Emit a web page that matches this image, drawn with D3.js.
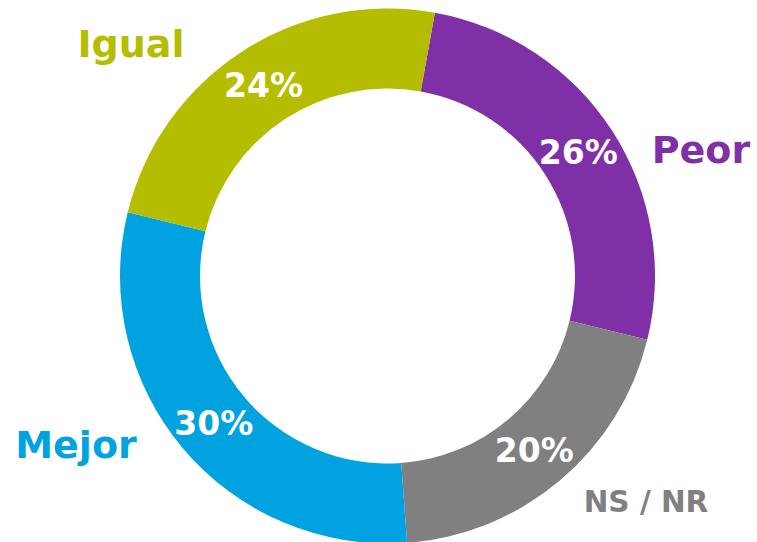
<!DOCTYPE html>
<html><head><meta charset="utf-8">
<script src="https://cdn.jsdelivr.net/npm/d3@7"></script>
<style>html,body{margin:0;padding:0;background:#fff;}svg{display:block;}</style>
</head><body>
<svg id="chart" width="757" height="542"></svg>
<script>
const categories = ["Peor", "NS / NR", "Mejor", "Igual"];
const values = [26, 20, 30, 24];
const pctLabels = ["26%", "20%", "30%", "24%"];
const colors = ["#7F30A6", "#808080", "#00A3E0", "#B5BD00"];

const W = 757, H = 542, cx = 387.5, cy = 276, rOuter = 267.5, rInner = 187.5;
const startDeg = 10.2;
const font = "'DejaVu Sans', sans-serif";
// category label positions (layout)
const catPos = [
  {x: 701, y: 163, size: 38},
  {x: 646, y: 512, size: 29.5},
  {x: 76, y: 458, size: 38},
  {x: 131, y: 57, size: 38}
];

const svg = d3.select("#chart");
const g = svg.append("g").attr("transform", `translate(${cx},${cy})`);
const start = startDeg * Math.PI / 180;
const pie = d3.pie().sort(null).value(d => d).startAngle(start).endAngle(start + 2 * Math.PI);
const arcs = pie(values);
const arc = d3.arc().innerRadius(rInner).outerRadius(rOuter);

g.selectAll("path").data(arcs).join("path")
  .attr("d", arc).attr("fill", (d, i) => colors[i]);

g.selectAll("text.pct").data(arcs).join("text")
  .attr("class", "pct")
  .attr("transform", d => `translate(${arc.centroid(d)})`)
  .attr("text-anchor", "middle").attr("dy", "0.36em")
  .style("font-family", font).style("font-weight", 700).style("font-size", "33px")
  .attr("fill", "#fff")
  .text((d, i) => pctLabels[i]);

svg.selectAll("text.cat").data(categories).join("text")
  .attr("class", "cat")
  .attr("x", (d, i) => catPos[i].x).attr("y", (d, i) => catPos[i].y)
  .attr("text-anchor", "middle")
  .style("font-family", font).style("font-weight", 700)
  .style("font-size", (d, i) => catPos[i].size + "px")
  .attr("fill", (d, i) => colors[i])
  .text(d => d);
</script>
</body></html>
